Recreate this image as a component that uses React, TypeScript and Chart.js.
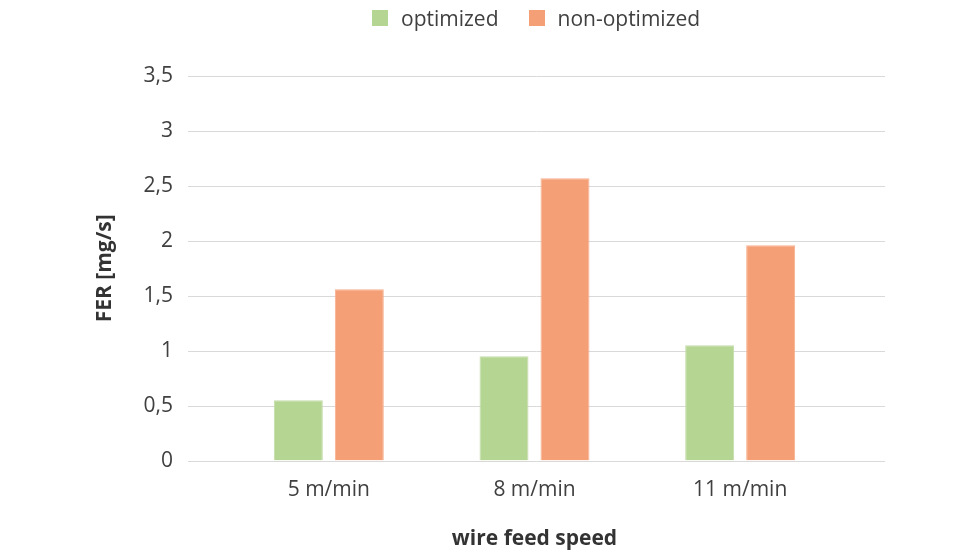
import React, { useEffect, useRef } from "react";
import { Chart, registerables } from "chart.js";

Chart.register(...registerables);

const categories = ["5 m/min", "8 m/min", "11 m/min"];
const optimized = [0.55, 0.95, 1.05];
const nonOptimized = [1.56, 2.57, 1.96];
const seriesNames = ["optimized", "non-optimized"];
const seriesColors = ["#B5D593", "#F49F76"];
const seriesBorders = ["#C3DCA8", "#F6B08E"];
const yTicks = [0, 0.5, 1, 1.5, 2, 2.5, 3, 3.5];

const FONT = "'Open Sans', sans-serif";
const TEXT = "#404040";

const extendedGrid = {
  id: "extendedGrid",
  beforeDatasetsDraw(chart: any) {
    const { ctx, chartArea, scales } = chart;
    const y = scales.y;
    ctx.save();
    ctx.strokeStyle = "#D9D9D9";
    ctx.lineWidth = 1;
    y.ticks.forEach((t: any) => {
      const py = Math.round(y.getPixelForValue(t.value)) + 0.5;
      ctx.beginPath();
      ctx.moveTo(chartArea.left - 38, py);
      ctx.lineTo(chartArea.right + 42, py);
      ctx.stroke();
    });
    ctx.restore();
  },
};

export default function App() {
  const ref = useRef<HTMLCanvasElement | null>(null);
  useEffect(() => {
    if (!ref.current) return;
    const chart = new Chart(ref.current, {
      type: "bar",
      data: {
        labels: categories,
        datasets: [
          {
            label: seriesNames[0],
            data: optimized,
            backgroundColor: seriesColors[0],
            borderColor: seriesBorders[0],
            borderWidth: 1,
          },
          {
            label: seriesNames[1],
            data: nonOptimized,
            backgroundColor: seriesColors[1],
            borderColor: seriesBorders[1],
            borderWidth: 1,
          },
        ],
      },
      plugins: [extendedGrid],
      options: {
        animation: false,
        responsive: false,
        maintainAspectRatio: false,
        layout: { padding: { left: 92, right: 137, top: 76, bottom: 8 } },
        datasets: { bar: { categoryPercentage: 0.593, barPercentage: 0.803 } } as any,
        plugins: {
          legend: { display: false },
          tooltip: { enabled: false },
        },
        scales: {
          x: {
            grid: { display: false, drawTicks: false },
            border: { display: false },
            ticks: {
              color: TEXT,
              font: { family: FONT, size: 21 },
              padding: 17,
            },
            title: {
              display: true,
              text: "wire feed speed",
              color: "#333333",
              font: { family: FONT, size: 21, weight: "bold" },
              padding: { top: 7, bottom: 0 },
            },
          },
          y: {
            min: 0,
            max: 3.5,
            afterBuildTicks: (axis: any) => {
              axis.ticks = yTicks.map((v) => ({ value: v }));
            },
            afterFit: (axis: any) => {
              axis.width = 134;
            },
            grid: { display: false, drawTicks: false },
            border: { display: false },
            ticks: {
              color: TEXT,
              font: { family: FONT, size: 21 },
              padding: 53,
              callback: (v: any) => String(v).replace(".", ","),
            },
            title: {
              display: true,
              text: "FER [mg/s]",
              color: "#333333",
              font: { family: FONT, size: 21, weight: "bold" },
              padding: { top: 0, bottom: 0 },
            },
          },
        },
      },
    });
    return () => chart.destroy();
  }, []);
  return (
    <div style={{ position: "fixed", left: 0, top: 0, width: 980, height: 560, background: "#fff" }}>
      <canvas ref={ref} width={980} height={560} style={{ width: 980, height: 560, display: "block" }} />
      <div
        style={{
          position: "absolute",
          left: 372,
          top: 10,
          height: 16,
          display: "flex",
          alignItems: "center",
          gap: 30,
          fontFamily: FONT,
          fontSize: 21,
          color: TEXT,
          whiteSpace: "nowrap",
        }}
      >
        {seriesNames.map((name, i) => (
          <div key={name} style={{ display: "flex", alignItems: "center" }}>
            <span style={{ width: 16, height: 16, background: seriesColors[i], marginRight: 13, display: "inline-block" }} />
            <span style={{ lineHeight: "16px" }}>{name}</span>
          </div>
        ))}
      </div>
    </div>
  );
}
